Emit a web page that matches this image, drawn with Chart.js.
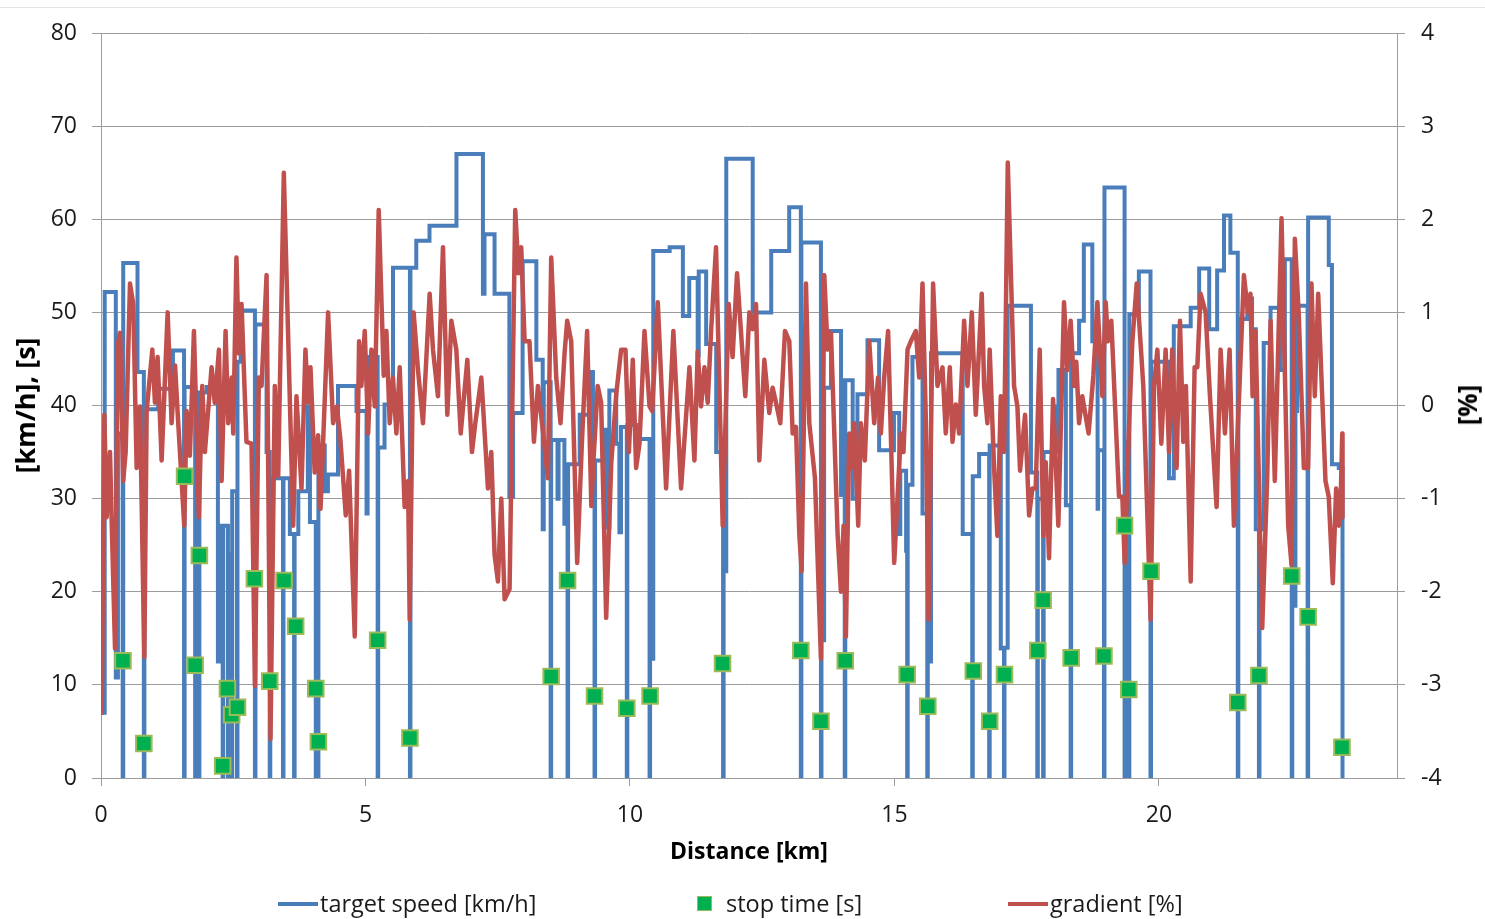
<!DOCTYPE html>
<html>
<head>
<meta charset="utf-8">
<script src="https://cdn.jsdelivr.net/npm/chart.js@4.4.1/dist/chart.umd.min.js"></script>
<style>
    body { margin: 0; background: #fff; }
    #wrap { position: relative; width: 1485px; height: 919px; overflow: hidden; font-family: 'Open Sans', sans-serif; color: #1a1a1a; }
    #topLine { position: absolute; left: 0; top: 7px; width: 1485px; height: 1px; background: #e4e4e4; }
    #rightTitle { position: absolute; left: 1467px; top: 405px; transform: translate(-50%, -50%) rotate(-90deg); font-weight: bold; font-size: 26px; white-space: nowrap; color: #000; }
    .leg { position: absolute; top: 887px; font-size: 23.5px; line-height: 32px; white-space: nowrap; }
    .legLine { position: absolute; width: 40px; height: 4px; top: 902px; }
    .legBox { position: absolute; width: 13px; height: 13px; top: 896px; left: 697px; background: #00b050; border: 1px solid #9bbb59; }
</style>
</head>
<body>
<div id="wrap">
    <div id="topLine"></div>
    <canvas id="speedChart" width="1485" height="919"></canvas>
    <div id="rightTitle">[%]</div>
    <div class="legLine" style="left:278px; background:#4a7ebb;"></div>
    <div class="leg" style="left:320px;">target speed [km/h]</div>
    <div class="legBox"></div>
    <div class="leg" style="left:726px;">stop time [s]</div>
    <div class="legLine" style="left:1008px; background:#c0504d;"></div>
    <div class="leg" style="left:1050px;">gradient [%]</div>
</div>
<script>
// Target speed steps: each value holds from its distance until the next one
const speedKm = [
    0, 0.07, 0.28, 0.32, 0.41, 0.42, 0.69, 0.81, 0.82, 1.08, 1.36, 1.57, 1.58, 1.78, 1.79, 1.85, 1.86, 2.0,
    2.21, 2.25, 2.30, 2.31, 2.40, 2.41, 2.47, 2.48, 2.57, 2.58, 2.64, 2.91, 2.92, 3.13, 3.19, 3.20, 3.44, 3.45,
    3.57, 3.65, 3.66, 3.73, 3.91, 3.95, 4.06, 4.07, 4.10, 4.11, 4.23, 4.29, 4.48, 4.83, 5.02, 5.04, 5.23, 5.24,
    5.36, 5.52, 5.84, 5.85, 5.96, 6.21, 6.72, 7.22, 7.25, 7.44, 7.72, 7.79, 7.97, 8.23, 8.35, 8.37, 8.50, 8.51,
    8.63, 8.65, 8.76, 8.82, 8.83, 9.05, 9.27, 9.30, 9.33, 9.34, 9.52, 9.55, 9.61, 9.74, 9.80, 9.83, 9.94, 9.95,
    10.15, 10.37, 10.38, 10.44, 10.75, 11.0, 11.12, 11.28, 11.30, 11.44, 11.63, 11.76, 11.77, 11.82, 12.32, 12.67,
    13.01, 13.23, 13.24, 13.61, 13.62, 13.67, 13.80, 13.99, 14.0, 14.06, 14.07, 14.21, 14.30, 14.49, 14.71, 14.99,
    15.09, 15.11, 15.22, 15.24, 15.25, 15.34, 15.53, 15.62, 15.63, 15.69, 16.29, 16.47, 16.48, 16.60, 16.79, 16.80,
    17.01, 17.07, 17.08, 17.14, 17.58, 17.70, 17.71, 17.81, 17.82, 18.02, 18.08, 18.10, 18.24, 18.33, 18.34, 18.49,
    18.58, 18.74, 18.84, 18.85, 18.96, 18.97, 19.35, 19.36, 19.43, 19.44, 19.62, 19.84, 19.85, 20.19, 20.28, 20.60,
    20.76, 20.95, 21.10, 21.23, 21.35, 21.49, 21.50, 21.67, 21.76, 21.83, 21.89, 21.90, 21.98, 22.11, 22.30, 22.38,
    22.51, 22.52, 22.58, 22.61, 22.81, 22.82, 23.21, 23.27, 23.40, 23.47
];
const speedVal = [
    7, 52.2, 10.8, 37, 0, 55.3, 43.6, 0, 39.6, 41.8, 45.9, 0, 42, 0, 41.4, 0, 41.4, 42,
    12.5, 27.1, 0, 27.1, 0, 24, 0, 30.8, 0, 44.7, 50.2, 0, 48.7, 35.0, 0, 32.2, 0, 32.2,
    26.2, 0, 26.2, 30.8, 39.9, 27.5, 0, 27.5, 0, 35.7, 30.8, 32.6, 42.1, 39.4, 28.4, 45.2, 0, 35.5,
    40.1, 54.8, 0, 54.8, 57.7, 59.3, 67.0, 52.0, 58.4, 52.0, 30.2, 39.2, 55.5, 44.9, 26.7, 42.5, 0, 36.3,
    30.0, 36.3, 27.3, 0, 33.7, 39.0, 43.6, 34.1, 0, 34.1, 37.4, 26.9, 41.6, 35.9, 26.4, 37.7, 0, 37.9,
    36.4, 0, 12.8, 56.6, 57.0, 49.6, 53.7, 45.4, 54.4, 46.6, 35.0, 0, 22.2, 66.5, 50.0, 56.6,
    61.3, 0, 57.5, 0, 14.8, 41.9, 48.0, 30.4, 42.7, 0, 42.7, 30.0, 41.2, 47.0, 35.2, 39.2,
    26.2, 33.0, 24.4, 0, 31.5, 45.2, 28.4, 0, 12.5, 45.6, 26.2, 0, 32.4, 34.8, 0, 35.7,
    13.9, 0, 14.0, 50.7, 32.8, 0, 30.0, 0, 35.0, 39.9, 35.0, 43.8, 29.3, 0, 45.6, 49.1,
    57.3, 46.9, 28.9, 35.2, 0, 63.4, 0, 36, 0, 49.8, 54.4, 0, 44.7, 32.2, 48.5, 50.5,
    54.7, 48.2, 54.5, 60.4, 56.4, 0, 49.3, 51.5, 48.2, 26.7, 0, 26.7, 46.7, 50.5, 43.8, 55.7,
    0, 18.5, 39.4, 50.7, 0, 60.2, 55.1, 33.7, 33.3, 0
];

// Stop times
const stopKm = [
    0.415, 0.81, 1.58, 1.78, 1.86, 2.30, 2.39, 2.47, 2.58, 2.90, 3.19, 3.46, 3.68, 4.06, 4.11, 5.23, 5.84,
    8.51, 8.82, 9.33, 9.94, 10.38, 11.75, 13.23, 13.61, 14.07, 15.24, 15.63, 16.49, 16.80, 17.08, 17.71,
    17.81, 18.34, 18.96, 19.35, 19.43, 19.85, 21.49, 21.89, 22.51, 22.82, 23.46
];
const stopVal = [
    12.6, 3.7, 32.4, 12.1, 23.9, 1.3, 9.6, 6.8, 7.6, 21.4, 10.4, 21.2, 16.3, 9.6, 3.9, 14.8, 4.3,
    10.9, 21.2, 8.8, 7.5, 8.8, 12.3, 13.7, 6.1, 12.6, 11.1, 7.7, 11.5, 6.1, 11.1, 13.7,
    19.1, 12.9, 13.1, 27.1, 9.5, 22.2, 8.1, 11.0, 21.7, 17.3, 3.3
];

// Gradient profile
const gradKm = [
    0.013, 0.063, 0.107, 0.17, 0.20, 0.265, 0.315, 0.36, 0.42, 0.466, 0.548, 0.61, 0.674, 0.737, 0.819, 0.863,
    0.97, 1.02, 1.07, 1.146, 1.26, 1.335, 1.40, 1.46, 1.574, 1.618, 1.68, 1.757, 1.807, 1.85, 1.914, 1.964,
    2.09, 2.15, 2.23, 2.28, 2.355, 2.405, 2.47, 2.50, 2.56, 2.607, 2.657, 2.75, 2.846, 2.91, 2.984, 3.035,
    3.13, 3.204, 3.286, 3.35, 3.456, 3.633, 3.695, 3.79, 3.865, 3.915, 3.96, 4.04, 4.105, 4.15, 4.21, 4.293,
    4.388, 4.46, 4.526, 4.627, 4.69, 4.797, 4.879, 4.923, 4.986, 5.05, 5.112, 5.175, 5.25, 5.345, 5.395, 5.458,
    5.52, 5.584, 5.647, 5.74, 5.805, 5.836, 5.91, 5.993, 6.087, 6.213, 6.276, 6.37, 6.465, 6.547, 6.623, 6.717,
    6.80, 6.925, 7.013, 7.076, 7.19, 7.315, 7.378, 7.44, 7.504, 7.567, 7.63, 7.724, 7.831, 7.894, 7.944, 8.008,
    8.10, 8.184, 8.26, 8.354, 8.448, 8.511, 8.606, 8.687, 8.763, 8.813, 8.889, 9.002, 9.09, 9.19, 9.27, 9.31,
    9.39, 9.455, 9.55, 9.645, 9.74, 9.833, 9.915, 9.98, 10.053, 10.116, 10.18, 10.274, 10.37, 10.42, 10.525, 10.683,
    10.82, 10.966, 11.124, 11.218, 11.28, 11.344, 11.407, 11.47, 11.533, 11.627, 11.753, 11.866, 11.94, 12.024, 12.18, 12.257,
    12.32, 12.383, 12.445, 12.54, 12.634, 12.697, 12.76, 12.842, 12.93, 13.012, 13.075, 13.138, 13.201, 13.245, 13.327, 13.39,
    13.497, 13.61, 13.673, 13.736, 13.80, 13.925, 13.988, 14.038, 14.082, 14.145, 14.195, 14.24, 14.315, 14.365, 14.44, 14.523,
    14.617, 14.69, 14.743, 14.806, 14.88, 14.995, 15.12, 15.17, 15.247, 15.31, 15.404, 15.467, 15.53, 15.593, 15.643, 15.73,
    15.813, 15.908, 15.97, 16.046, 16.097, 16.16, 16.222, 16.317, 16.38, 16.462, 16.537, 16.65, 16.695, 16.757, 16.80, 16.883,
    16.946, 17.01, 17.072, 17.142, 17.261, 17.324, 17.374, 17.469, 17.545, 17.607, 17.67, 17.746, 17.815, 17.86, 17.922, 17.998,
    18.098, 18.205, 18.268, 18.331, 18.394, 18.438, 18.489, 18.55, 18.67, 18.76, 18.836, 18.93, 18.993, 19.037, 19.10, 19.245,
    19.308, 19.352, 19.434, 19.497, 19.58, 19.704, 19.843, 19.906, 19.97, 20.045, 20.126, 20.19, 20.25, 20.334, 20.397, 20.46,
    20.51, 20.60, 20.674, 20.725, 20.787, 20.882, 20.964, 21.09, 21.165, 21.247, 21.335, 21.417, 21.606, 21.682, 21.73, 21.77,
    21.826, 21.952, 22.046, 22.11, 22.19, 22.317, 22.443, 22.506, 22.569, 22.644, 22.739, 22.82, 22.883, 22.946, 23.01, 23.148,
    23.21, 23.286, 23.35, 23.40, 23.44, 23.465, 23.47
];
const gradVal = [
    -3.32, -0.10, -1.20, -0.50, -1.20, -2.61, 0.65, 0.78, -0.81, -0.50, 1.31, 1.09, -0.67, -0.01, -2.70, -0.06,
    0.60, 0.03, 0.52, -0.59, 1.0, -0.19, 0.43, -0.19, -1.29, -0.06, -0.54, 0.80, -0.23, -1.20, 0.21, -0.50,
    0.41, 0.03, 0.60, -0.81, 0.80, -0.19, 0.30, -0.30, 1.59, 0.56, 1.09, -0.39, -0.41, -3.01, 0.30, 0.21,
    1.40, -3.58, 0.21, -0.76, 2.50, -1.29, 0.10, -0.89, 0.60, 0.03, 0.41, -0.72, -0.32, -1.11, -0.23, 1.00,
    -0.19, -0.01, -0.37, -1.18, -0.70, -2.48, 0.69, 0.21, 0.80, -0.30, 0.60, -0.01, 2.10, 0.32, 0.80, -0.19,
    0.30, -0.30, 0.41, -1.09, -0.81, -2.30, 1.00, 0.38, -0.19, 1.20, 0.60, 0.10, 1.70, -0.10, 0.91, 0.60,
    -0.30, 0.49, -0.50, -0.19, 0.30, -0.89, -0.50, -1.60, -1.89, -1.00, -2.08, -1.97, 2.10, 1.42, 1.70, 0.69,
    0.69, -0.39, 0.21, -0.28, -0.78, 1.59, 0.30, -0.19, 0.56, 0.91, 0.69, -1.69, -0.41, 0.80, -1.08, -0.59,
    0.21, 0.03, -2.28, -0.63, 0.12, 0.60, 0.60, -0.50, 0.49, -0.67, -0.41, 0.80, -0.01, -0.06, 1.11, -0.89,
    0.80, -0.89, 0.41, -0.59, 0.58, -0.01, 0.41, 0.03, 0.80, 1.70, -1.29, 1.09, 0.52, 1.42, 0.10, 1.00,
    0.82, 1.09, -0.59, 0.49, -0.08, 0.19, 0.03, -0.19, 0.80, 0.69, -0.30, -0.23, -1.38, -1.78, 1.31, -0.19,
    -0.78, -2.72, 1.40, 0.60, 0.78, -1.38, -2.00, -1.29, -2.48, -0.30, -0.67, -0.19, -1.29, -0.19, -0.59, 0.69,
    -0.19, 0.30, -0.30, 0.30, 0.80, -1.69, -0.30, -0.50, 0.60, 0.69, 0.80, 0.30, 1.31, -0.15, -2.30, 1.31,
    0.21, 0.41, -0.30, 0.41, -0.39, 0.01, -0.30, 0.91, 0.21, 1.00, -0.10, 1.20, 0.21, -0.19, 0.60, -0.67,
    -1.40, 0.10, -0.50, 2.61, 0.21, -0.01, -0.70, -0.10, -1.18, -0.89, -0.89, 0.60, -1.40, -0.61, -1.64, 0.07,
    -1.29, 1.11, 0.38, 0.91, 0.21, 0.47, -0.19, 0.10, -0.30, 0.32, 1.11, 0.10, 1.11, 0.69, 0.91, -0.98,
    -0.98, -1.69, -0.23, 0.69, 1.31, 0.21, -2.30, 0.21, 0.60, -0.41, 0.60, -0.50, 0.60, -0.67, 0.91, -0.39,
    0.21, -1.89, 0.41, 0.41, 1.20, 1.00, 0.10, -1.09, 0.60, -0.30, 0.60, -1.29, 1.40, 1.00, 1.20, 0.10,
    0.80, -2.39, -0.78, 0.91, -0.81, 2.01, -1.29, -1.71, 1.79, 0.96, -0.67, -0.67, 1.31, 0.10, 1.20, -0.81,
    -0.98, -1.91, -0.89, -1.29, -0.90, -0.30, -1.20
];

// Axis ticks
const xTickStep = 5;
const speedTicks = { min: 0, max: 80, step: 10 };
const gradTicks = { min: -4, max: 4, step: 1 };

const gridGray = '#9c9c9c';
const tickFont = { family: 'Open Sans', size: 23 };
const xTitleFont = { family: 'Open Sans', size: 23, weight: 'bold' };
const yTitleFont = { family: 'Open Sans', size: 27, weight: 'bold' };

function toPoints(xs, ys) {
    return xs.map((x, i) => ({ x: x, y: ys[i] }));
}

const ctx = document.getElementById('speedChart').getContext('2d');
const chart = new Chart(ctx, {
    type: 'line',
    data: {
        datasets: [
            {
                label: 'stop time [s]',
                data: toPoints(stopKm, stopVal),
                yAxisID: 'y',
                showLine: false,
                pointStyle: 'rect',
                pointRadius: 11,
                pointBackgroundColor: '#00b050',
                pointBorderColor: '#9bbb59',
                pointBorderWidth: 2,
                order: 0
            },
            {
                label: 'gradient [%]',
                data: toPoints(gradKm, gradVal),
                yAxisID: 'y1',
                borderColor: '#c0504d',
                borderWidth: 4.5,
                borderJoinStyle: 'round',
                pointRadius: 0,
                tension: 0,
                order: 1
            },
            {
                label: 'target speed [km/h]',
                data: toPoints(speedKm, speedVal),
                yAxisID: 'y',
                borderColor: '#4a7ebb',
                borderWidth: 4,
                pointRadius: 0,
                stepped: true,
                order: 2
            }
        ]
    },
    options: {
        responsive: false,
        animation: false,
        layout: {
            padding: { left: 0, right: 0, top: 33, bottom: 53 }
        },
        plugins: {
            legend: { display: false },
            tooltip: { enabled: false }
        },
        scales: {
            x: {
                type: 'linear',
                min: 0,
                max: 24.5,
                afterFit: function(scale) { scale.height = 88; },
                ticks: {
                    stepSize: xTickStep,
                    includeBounds: false,
                    maxRotation: 0,
                    padding: 16,
                    color: '#1a1a1a',
                    font: tickFont
                },
                grid: { drawOnChartArea: false, tickLength: 8, color: gridGray },
                border: { color: gridGray },
                title: {
                    display: true,
                    text: 'Distance [km]',
                    color: '#000',
                    font: xTitleFont,
                    padding: { top: 0, bottom: 0 }
                }
            },
            y: {
                position: 'left',
                min: speedTicks.min,
                max: speedTicks.max,
                afterFit: function(scale) { scale.width = 101; },
                ticks: {
                    stepSize: speedTicks.step,
                    padding: 15,
                    color: '#1a1a1a',
                    font: tickFont
                },
                grid: { color: gridGray, tickLength: 9 },
                border: { color: gridGray },
                title: {
                    display: true,
                    text: '[km/h], [s]',
                    color: '#000',
                    font: yTitleFont,
                    padding: { top: 11, bottom: 0 }
                }
            },
            y1: {
                position: 'right',
                min: gradTicks.min,
                max: gradTicks.max,
                afterFit: function(scale) { scale.width = 88; },
                ticks: {
                    stepSize: gradTicks.step,
                    padding: 16,
                    color: '#1a1a1a',
                    font: tickFont
                },
                grid: { drawOnChartArea: false, color: gridGray, tickLength: 8 },
                border: { color: gridGray }
            }
        }
    }
});
</script>
</body>
</html>
